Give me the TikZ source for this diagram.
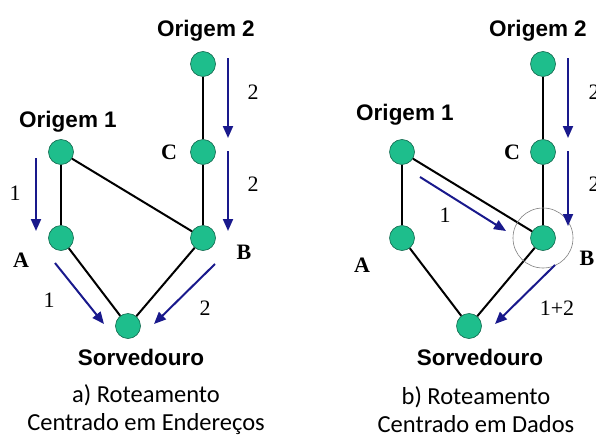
\documentclass[tikz,border=0pt]{standalone}
\usepackage{fontspec}
\setmainfont{Liberation Serif}
\setsansfont{Liberation Sans}
\newfontfamily\capfont{Carlito}
\usetikzlibrary{arrows.meta}
\definecolor{nodegreen}{RGB}{30,190,140}
\definecolor{flowblue}{RGB}{25,25,140}
\tikzset{
	dot/.style={circle, draw=nodegreen!55!black, line width=0.6pt, fill=nodegreen, minimum size=25pt, inner sep=0pt},
	link/.style={line width=2pt, black},
	flow/.style={line width=2pt, flowblue, -{Triangle[length=12pt, width=10pt]}},
	origin/.style={font=\sffamily\bfseries\fontsize{22.5}{24}\selectfont},
	letter/.style={font=\bfseries\fontsize{22}{24}\selectfont},
	num/.style={font=\fontsize{22}{24}\selectfont},
	caption/.style={font=\capfont\fontsize{24.5}{28}\selectfont, align=center, inner sep=0pt},
}

\begin{document}
\begin{tikzpicture}[x=1pt, y=-1pt]
		%%%%% START %%%%%
		\useasboundingbox (0, 0) rectangle (596, 436);
		
		%% a) routing by address
		\node[dot] (o2a) at (203, 64) {};
		\node[dot] (ca) at (203, 152) {};
		\node[dot] (o1a) at (61, 152) {};
		\node[dot] (aa) at (61, 238) {};
		\node[dot] (ba) at (203, 238) {};
		\node[dot] (sa) at (128, 326) {};
		
		\draw[link] (o2a) -- (ca);
		\draw[link] (ca) -- (ba);
		\draw[link] (o1a) -- (ba);
		\draw[link] (o1a) -- (aa);
		\draw[link] (aa) -- (sa);
		\draw[link] (ba) -- (sa);
		
		\node[origin] (t2a) at (206, 31) {Origem 2};
		\node[origin] (t1a) at (68, 122) {Origem 1};
		\node[letter] (lca) at (169, 152) {C};
		\node[letter] (laa) at (21, 260) {A};
		\node[letter] (lba) at (244, 252) {B};
		\node[origin] (tsa) at (141, 357) {Sorvedouro};
		\node[caption] (capa) at (146, 410) {a) Roteamento\\Centrado em Endereços};
		
		\coordinate (f1s) at (36, 158);
		\coordinate (f1e) at (36, 231);
		\coordinate (f2s) at (228, 58);
		\coordinate (f2e) at (228, 138);
		\coordinate (f3s) at (228, 151);
		\coordinate (f3e) at (228, 231);
		\coordinate (f4s) at (55, 263);
		\coordinate (f4e) at (104, 324);
		\coordinate (f5s) at (215, 264);
		\coordinate (f5e) at (154, 324);
		\draw[flow] (f1s) -- (f1e);
		\draw[flow] (f2s) -- (f2e);
		\draw[flow] (f3s) -- (f3e);
		\draw[flow] (f4s) -- (f4e);
		\draw[flow] (f5s) -- (f5e);
		\node[num] (n1a) at (15, 193) {1};
		\node[num] (n2a) at (253, 92) {2};
		\node[num] (n3a) at (253, 184) {2};
		\node[num] (n4a) at (49, 300) {1};
		\node[num] (n5a) at (205, 308) {2};
		
		%% b) data-centric routing
		\node[dot] (o2b) at (543, 64) {};
		\node[dot] (cb) at (543, 152) {};
		\node[dot] (o1b) at (402, 152) {};
		\node[dot] (ab) at (402, 238) {};
		\node[dot] (bb) at (543, 238) {};
		\node[dot] (sb) at (469, 326) {};
		
		\draw[link] (o2b) -- (cb);
		\draw[link] (cb) -- (bb);
		\draw[link] (o1b) -- (bb);
		\draw[link] (o1b) -- (ab);
		\draw[link] (ab) -- (sb);
		\draw[link] (bb) -- (sb);
		
		\draw[gray, line width=0.6pt] (bb) circle[radius=30pt];
		
		\node[origin] (t2b) at (538, 31) {Origem 2};
		\node[origin] (t1b) at (405, 115) {Origem 1};
		\node[letter] (lcb) at (512, 152) {C};
		\node[letter] (lab) at (362, 265) {A};
		\node[letter] (lbb) at (587, 258) {B};
		\node[origin] (tsb) at (480, 357) {Sorvedouro};
		\node[caption] (capb) at (476, 410) {b) Roteamento\\Centrado em Dados};
		
		\coordinate (g2s) at (568, 58);
		\coordinate (g2e) at (568, 138);
		\coordinate (g3s) at (568, 151);
		\coordinate (g3e) at (568, 226);
		\coordinate (g4s) at (420, 177);
		\coordinate (g4e) at (506, 231);
		\coordinate (g5s) at (555, 265);
		\coordinate (g5e) at (495, 324);
		\draw[flow] (g2s) -- (g2e);
		\draw[flow] (g3s) -- (g3e);
		\draw[flow] (g4s) -- (g4e);
		\draw[flow] (g5s) -- (g5e);
		\node[num] (n2b) at (594, 92) {2};
		\node[num] (n3b) at (594, 184) {2};
		\node[num] (n4b) at (445, 215) {1};
		\node[num] (n5b) at (557, 308) {1+2};
		
		%%%%% END %%%%%
\end{tikzpicture}
\end{document}
